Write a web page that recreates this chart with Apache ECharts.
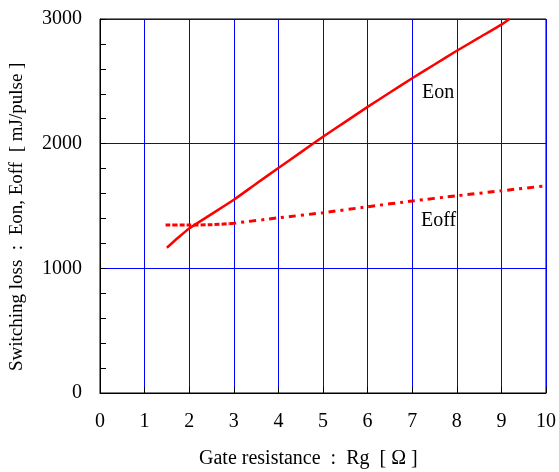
<!DOCTYPE html>
<html>
<head>
<meta charset="utf-8">
<script src="https://cdn.jsdelivr.net/npm/echarts@6/dist/echarts.min.js"></script>
<style>
  html, body { margin: 0; padding: 0; background: #fff; }
  #chart { width: 559px; height: 472px; }
</style>
</head>
<body>
<div id="chart"></div>
<script>
// Switching loss vs gate resistance
const xTicks = [0, 1, 2, 3, 4, 5, 6, 7, 8, 9, 10];
const yTicks = [0, 1000, 2000, 3000];

// Eon curve [Rg (ohm), loss (mJ/pulse)]
const eonRg   = [1.5, 1.75, 2.0, 2.5, 3.0, 3.5, 4.0, 4.5, 5.0, 5.5, 6.0, 6.5, 7.0, 7.5, 8.0, 8.5, 9.0, 9.18];
const eonLoss = [1165, 1245, 1320, 1435, 1550, 1678, 1805, 1930, 2055, 2175, 2295, 2410, 2525, 2635, 2745, 2850, 2955, 3000];

// Eoff curve, low-Rg part (fine dashes) and remainder (dash-dot)
const eoffRgA   = [1.47, 2.0, 2.5, 2.9];
const eoffLossA = [1347, 1347, 1350, 1358];
const eoffRgB   = [2.9, 3.0, 4.0, 5.0, 6.0, 7.0, 8.0, 9.0, 10.0];
const eoffLossB = [1358, 1362, 1405, 1446, 1494, 1540, 1582, 1622, 1662];

const pairs = (xs, ys) => xs.map((x, i) => [x, ys[i]]);

const font = '"Liberation Serif", "DejaVu Serif", serif';
const chart = echarts.init(document.getElementById('chart'));

chart.setOption({
  animation: false,
  backgroundColor: '#ffffff',
  textStyle: { fontFamily: font },
  grid: {
    left: 100, right: 9, top: 19, bottom: 79,
    show: true, borderColor: '#000', borderWidth: 1, backgroundColor: 'transparent'
  },
  xAxis: {
    type: 'value', min: xTicks[0], max: xTicks[xTicks.length - 1], interval: 1,
    axisLine: { show: true, lineStyle: { color: '#000', width: 1 } },
    axisTick: { show: true, inside: true, length: 6, lineStyle: { color: '#000' } },
    axisLabel: { color: '#000', fontSize: 20, fontFamily: font, margin: 19,
                 formatter: v => String(v) },
    splitLine: { show: true, lineStyle: { color: '#0000ff', width: 1 } }
  },
  yAxis: {
    type: 'value', min: yTicks[0], max: yTicks[yTicks.length - 1], interval: 1000,
    axisLine: { show: true, lineStyle: { color: '#000', width: 1 } },
    axisTick: { show: true, inside: true, length: 6, lineStyle: { color: '#000' } },
    minorTick: { show: true, splitNumber: 5, length: 6, lineStyle: { color: '#000' } },
    axisLabel: { color: '#000', fontSize: 20, fontFamily: font, margin: 18,
                 formatter: v => String(v) },
    splitLine: { show: true, lineStyle: { color: '#0000ff', width: 1 } }
  },
  series: [
    {
      name: 'Eon', type: 'line', data: pairs(eonRg, eonLoss),
      showSymbol: false, smooth: 0.2, clip: true,
      lineStyle: { color: '#ff0000', width: 2.5 }
    },
    {
      name: 'Eoff', type: 'line', data: pairs(eoffRgA, eoffLossA),
      showSymbol: false, smooth: 0.2,
      lineStyle: { color: '#ff0000', width: 3, type: [5, 2] }
    },
    {
      name: 'Eoff', type: 'line', data: pairs(eoffRgB, eoffLossB),
      showSymbol: false, smooth: 0.2,
      lineStyle: { color: '#ff0000', width: 3, type: [7, 5, 3, 5] }
    }
  ],
  graphic: [
    { type: 'text', left: 422, top: 83,
      style: { text: 'Eon', fontSize: 20, fontFamily: font, fill: '#000' } },
    { type: 'text', left: 421, top: 211,
      style: { text: 'Eoff', fontSize: 20, fontFamily: font, fill: '#000' } },
    { type: 'text', left: 199, top: 449,
      style: { text: 'Gate resistance  :  Rg  [ \u03A9 ]', fontSize: 20, fontFamily: font, fill: '#000' } },
    { type: 'text', x: 8, y: 371, rotation: Math.PI / 2,
      style: { text: 'Switching loss  :  Eon, Eoff  [ mJ/pulse ]', fontSize: 19, fontFamily: font, fill: '#000' } }
  ]
});
</script>
</body>
</html>
